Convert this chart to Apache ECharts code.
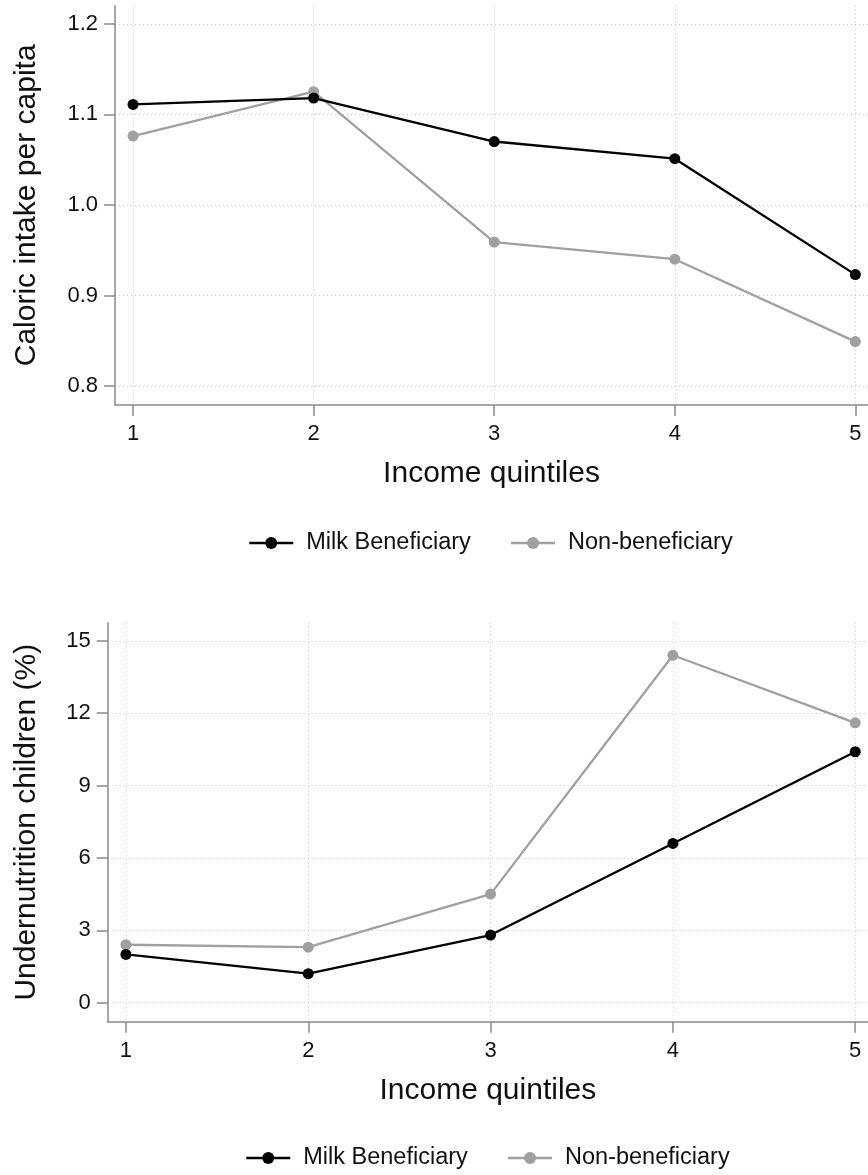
<!DOCTYPE html>
<html>
<head>
<meta charset="utf-8">
<script src="https://cdn.jsdelivr.net/npm/echarts@6/dist/echarts.min.js"></script>
<style>
html,body{margin:0;padding:0;background:#fff;}
#c{width:868px;height:1175px;}
</style>
</head>
<body>
<div id="c"></div>
<script>
var quintiles = [1, 2, 3, 4, 5];
var seriesNames = ['Milk Beneficiary', 'Non-beneficiary'];
var caloricMilk = [1.111, 1.118, 1.070, 1.051, 0.923];
var caloricNon = [1.076, 1.125, 0.959, 0.940, 0.849];
var underMilk = [2.0, 1.2, 2.8, 6.6, 10.4];
var underNon = [2.4, 2.3, 4.5, 14.4, 11.6];
var ticksCaloric = [0.8, 0.9, 1.0, 1.1, 1.2];
var ticksUnder = [0, 3, 6, 9, 12, 15];
var xTitle = 'Income quintiles';
var yTitleTop = 'Caloric intake per capita';
var yTitleBottom = 'Undernutrition children (%)';

var FONT = 'Liberation Sans, Arial, Helvetica, sans-serif';
var BLACK = '#000000';
var GRAY = '#a0a0a0';
var AXIS = '#8a8a8a';

function pairs(vals) { return quintiles.map(function (q, i) { return [q, vals[i]]; }); }

function xAxis(gi) {
  return {
    type: 'value', gridIndex: gi, min: 0.9, max: 5.07,
    name: xTitle, nameLocation: 'middle', nameGap: 54,
    nameTextStyle: { fontFamily: FONT, fontSize: 30, color: '#111' },
    axisLine: { show: true, onZero: false, lineStyle: { color: AXIS, width: 1.5 } },
    axisTick: { show: true, length: 11, customValues: quintiles, lineStyle: { color: AXIS, width: 1.5 } },
    axisLabel: { customValues: quintiles, margin: 18, fontFamily: FONT, fontSize: 22, color: '#111' },
    splitLine: { show: true, lineStyle: { color: '#c4c4c4', type: [1, 3], width: 1 } }
  };
}
function yAxis(gi, ticks, min, max, dec, gap) {
  return {
    type: 'value', gridIndex: gi, min: min, max: max,
    name: gi === 0 ? yTitleTop : yTitleBottom, nameLocation: 'middle', nameGap: gap,
    nameTextStyle: { fontFamily: FONT, fontSize: 30, color: '#111' },
    axisLine: { show: true, onZero: false, lineStyle: { color: AXIS, width: 1.5 } },
    axisTick: { show: true, length: 11, customValues: ticks, lineStyle: { color: AXIS, width: 1.5 } },
    axisLabel: { customValues: ticks, margin: 17, fontFamily: FONT, fontSize: 22, color: '#111',
      formatter: function (v) { return v.toFixed(dec); } },
    splitLine: { show: true, lineStyle: { color: '#c4c4c4', type: [1, 3], width: 1 } }
  };
}
function line(name, gi, vals, color) {
  return {
    name: name, type: 'line', xAxisIndex: gi, yAxisIndex: gi,
    data: pairs(vals), symbol: 'circle', symbolSize: 11,
    lineStyle: { color: color, width: 2.3 }, itemStyle: { color: color },
    z: name === seriesNames[0] ? 3 : 2, animation: false
  };
}
function legend(left, top) {
  return { data: seriesNames, left: left, top: top, itemWidth: 44, itemHeight: 15, itemGap: 39,
    lineStyle: { width: 2.5 },
    textStyle: { fontFamily: FONT, fontSize: 23.5, color: '#111', padding: [0, 0, 0, 8] } };
}
var chart = echarts.init(document.getElementById('c'), null, { renderer: 'canvas' });
chart.setOption({
  backgroundColor: '#fff',
  animation: false,
  grid: [
    { left: 115, top: 5.7, width: 753, height: 399.3 },
    { left: 107.7, top: 622.7, width: 760.3, height: 399 }
  ],
  xAxis: [xAxis(0), xAxis(1)],
  yAxis: [yAxis(0, ticksCaloric, 0.779, 1.22, 1, 73), yAxis(1, ticksUnder, -0.79, 15.75, 0, 66)],
  legend: [legend(243, 526), legend(240, 1141)],
  series: [
    line(seriesNames[0], 0, caloricMilk, BLACK),
    line(seriesNames[1], 0, caloricNon, GRAY),
    line(seriesNames[0], 1, underMilk, BLACK),
    line(seriesNames[1], 1, underNon, GRAY)
  ]
});
</script>
</body>
</html>
